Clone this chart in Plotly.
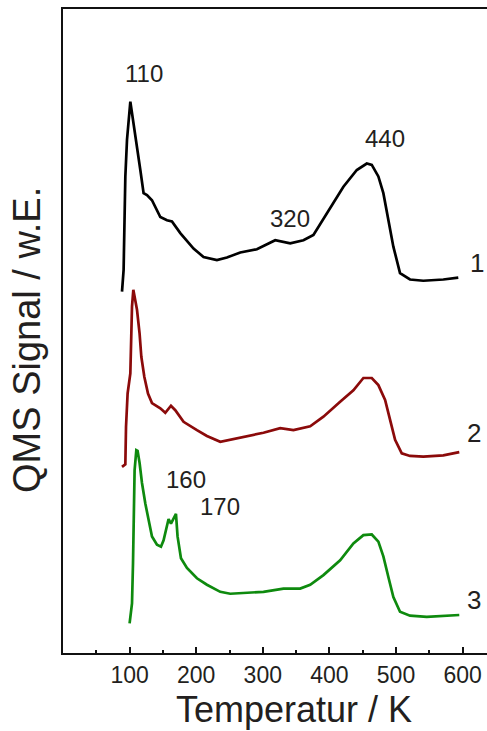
import plotly.graph_objects as go

# Curve 1 (black)
t1 = [88.6, 91.0, 93.6, 96.1, 101.1, 106.0, 111.1, 116.1, 121.0, 126.1, 133.6, 146.1, 156.1, 163.6,
      176.1, 196.0, 211.0, 231.1, 246.1, 266.1, 291.1, 318.6, 341.1, 361.0, 376.0, 396.1, 421.0,
      441.1, 456.1, 463.6, 473.5, 481.0, 488.5, 496.0, 506.0, 521.0, 541.0, 571.0, 593.5]
s1 = [5.61, 5.95, 7.40, 7.97, 8.56, 8.23, 7.86, 7.50, 7.14, 7.11, 7.03, 6.77, 6.72, 6.70,
      6.52, 6.28, 6.15, 6.10, 6.14, 6.22, 6.27, 6.41, 6.36, 6.41, 6.49, 6.83, 7.24,
      7.50, 7.60, 7.58, 7.40, 7.14, 6.72, 6.31, 5.90, 5.80, 5.78, 5.80, 5.83]

# Curve 2 (dark red)
t2 = [88.6, 93.6, 94.6, 97.0, 101.1, 102.1, 103.6, 105.6, 111.1, 115.0, 117.6, 122.1, 127.6, 133.6,
      146.1, 153.6, 162.1, 168.6, 181.0, 201.1, 216.1, 236.1, 251.1, 276.1, 301.0, 326.1, 346.0,
      371.1, 391.0, 416.1, 436.0, 451.0, 463.6, 473.5, 483.6, 491.1, 498.6, 508.6, 521.0, 541.0,
      571.0, 595.0]
s2 = [2.89, 2.93, 3.51, 4.03, 4.34, 4.86, 5.38, 5.64, 5.33, 4.96, 4.60, 4.29, 4.03, 3.88,
      3.80, 3.73, 3.84, 3.77, 3.59, 3.46, 3.37, 3.28, 3.31, 3.37, 3.42, 3.49, 3.46,
      3.52, 3.67, 3.90, 4.08, 4.27, 4.27, 4.16, 3.93, 3.62, 3.31, 3.10, 3.06, 3.05,
      3.07, 3.12]

# Curve 3 (green)
t3 = [100.0, 103.6, 105.1, 106.0, 107.5, 110.1, 112.0, 115.0, 118.6, 123.6, 128.5, 133.6, 141.1,
      147.1, 151.0, 155.1, 158.5, 162.1, 166.0, 169.6, 172.0, 177.1, 186.1, 201.1, 216.1, 236.1,
      251.1, 276.1, 301.0, 331.0, 356.1, 371.1, 391.0, 416.1, 436.0, 451.0, 463.6, 473.5, 481.0,
      488.5, 496.0, 506.0, 521.0, 546.1, 571.0, 595.0]
s3 = [0.46, 0.77, 1.39, 2.17, 2.84, 3.15, 3.14, 2.95, 2.64, 2.32, 2.07, 1.81, 1.68,
      1.65, 1.75, 1.96, 2.08, 2.01, 2.09, 2.16, 1.81, 1.47, 1.32, 1.16, 1.06, 0.95,
      0.92, 0.93, 0.95, 1.00, 1.00, 1.06, 1.21, 1.44, 1.70, 1.83, 1.84, 1.73, 1.50,
      1.18, 0.87, 0.64, 0.58, 0.56, 0.57, 0.59]

# Peak labels (text, temperature, signal)
peak_text = ["110", "320", "440", "160", "170"]
peak_t = [121.0, 341.1, 483.6, 185.1, 236.1]
peak_s = [9.00, 6.75, 7.99, 2.69, 2.28]

# Curve number labels
num_text = ["1", "2", "3"]
num_t = [621.1, 617.1, 617.1]
num_s = [6.05, 3.42, 0.82]

tick_vals = [100, 200, 300, 400, 500, 600]
tick_text = ["100", "200", "300", "400", "500", "600"]
minor_vals = [50, 150, 250, 350, 450, 550]

FONT = "Liberation Sans, Arial, sans-serif"
TXT = "#231f20"

fig = go.Figure()
for t, s, c in [(t1, s1, "#000000"), (t2, s2, "#8b0a0a"), (t3, s3, "#0e8a0e")]:
    fig.add_trace(go.Scatter(x=t, y=s, mode="lines", line=dict(color=c, width=2.7),
                             showlegend=False, hoverinfo="skip"))

annots = []
for txt, x, y in zip(peak_text, peak_t, peak_s):
    annots.append(dict(text=txt, x=x, y=y, xref="x", yref="y", showarrow=False,
                       xanchor="center", yanchor="middle",
                       font=dict(family=FONT, size=24, color=TXT)))
for txt, x, y in zip(num_text, num_t, num_s):
    annots.append(dict(text=txt, x=x, y=y, xref="x", yref="y", showarrow=False,
                       xanchor="center", yanchor="middle",
                       font=dict(family=FONT, size=26, color=TXT)))
annots.append(dict(text="Temperatur / K", x=0.545, y=-0.088, xref="paper", yref="paper",
                   xanchor="center", yanchor="middle",
                   showarrow=False, font=dict(family=FONT, size=36, color=TXT)))
annots.append(dict(text="QMS Signal / w.E.", x=-0.085, y=0.486, xref="paper", yref="paper",
                   xanchor="center", yanchor="middle",
                   showarrow=False, textangle=-90, font=dict(family=FONT, size=38, color=TXT)))

fig.update_layout(
    width=487, height=731,
    margin=dict(l=63, r=0, t=9, b=78),
    paper_bgcolor="white", plot_bgcolor="white",
    annotations=annots,
    xaxis=dict(range=[0, 636.6], showgrid=False, zeroline=False,
               showline=True, linecolor="#111", linewidth=2, mirror=True,
               ticks="inside", ticklen=6, tickwidth=2, tickcolor="#111",
               tickvals=tick_vals, ticktext=tick_text,
               tickfont=dict(family=FONT, size=23, color=TXT),
               minor=dict(ticks="inside", ticklen=3, tickwidth=2, tickcolor="#111",
                          tickvals=minor_vals)),
    yaxis=dict(range=[0, 10], showgrid=False, zeroline=False, showticklabels=False,
               showline=True, linecolor="#111", linewidth=2, mirror=False, ticks=""),
)

# Remove the default page-body margin so the figure fills the window exactly.
fig.write_html("out.html", config={"displayModeBar": False},
               post_script="document.body.style.margin='0';")
